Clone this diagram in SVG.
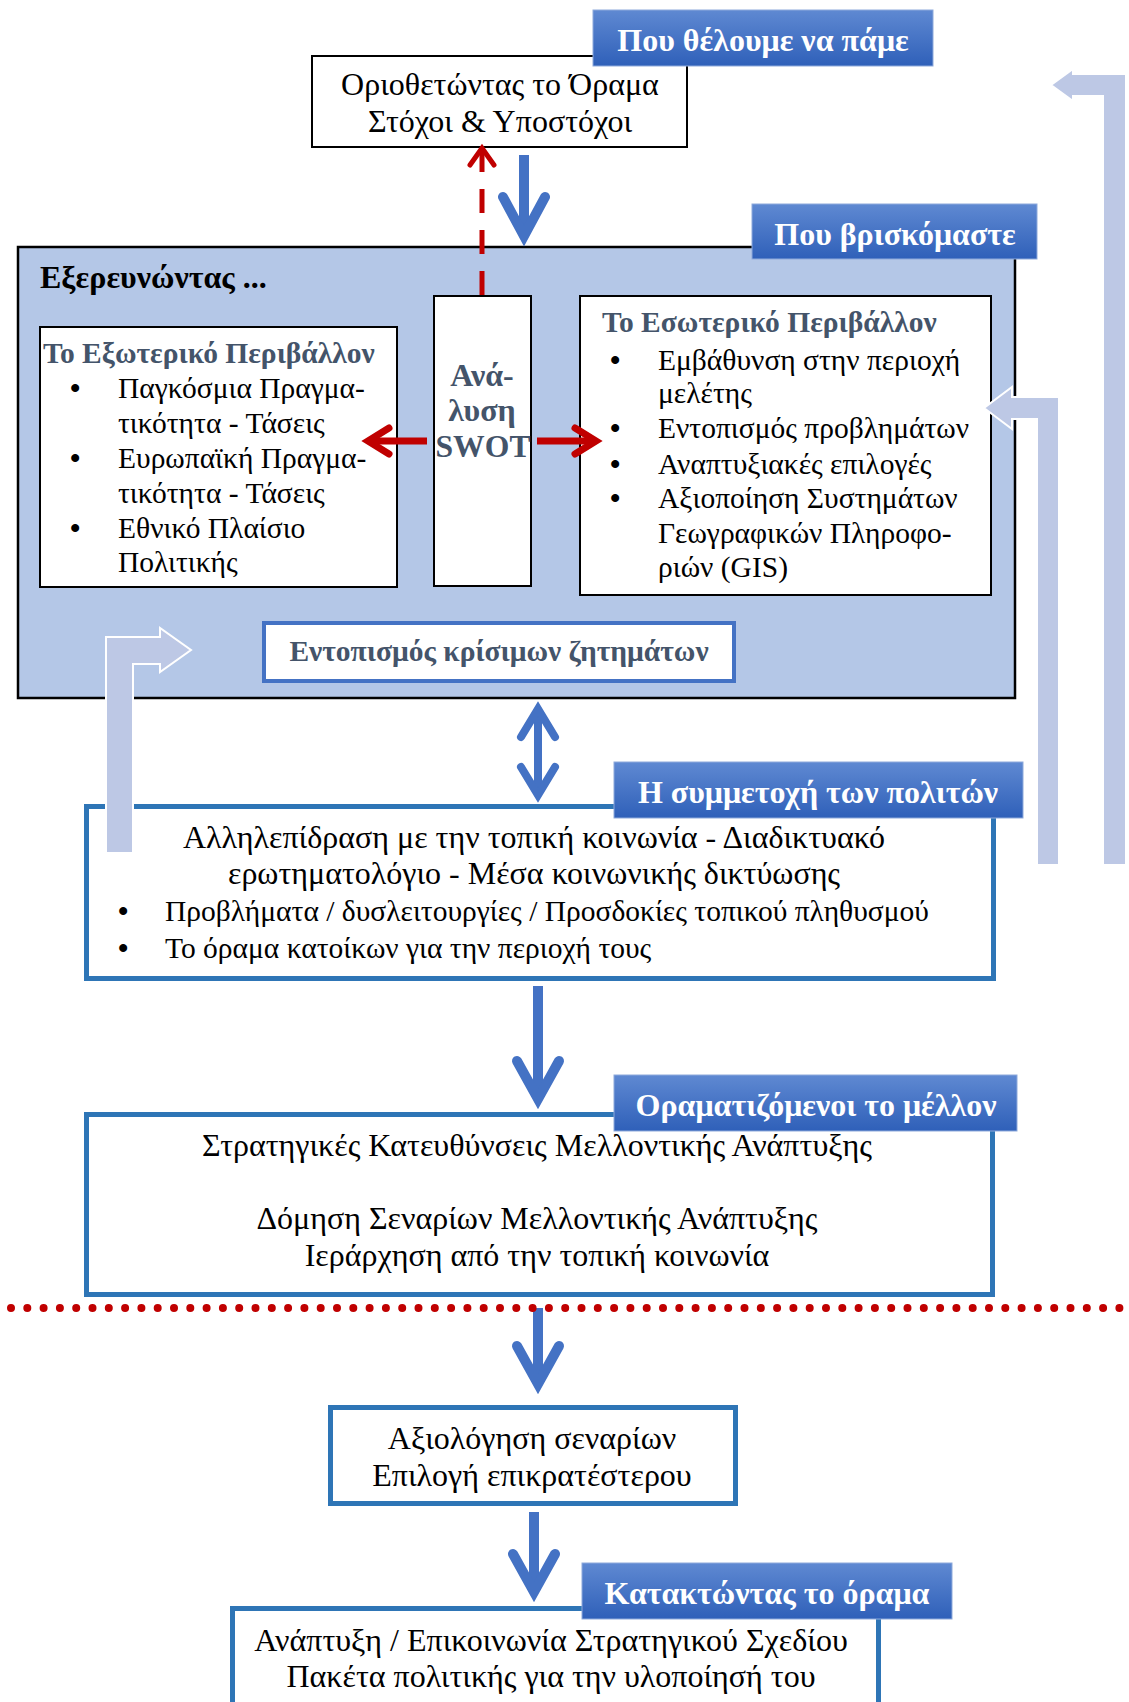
<svg xmlns="http://www.w3.org/2000/svg" width="1129" height="1702" viewBox="0 0 1129 1702">
<defs>
<linearGradient id="lblGrad" x1="0" y1="0" x2="0" y2="1">
<stop offset="0" stop-color="#5f89d2"/>
<stop offset="1" stop-color="#2f60b9"/>
</linearGradient>
<style>
text { font-family: "Liberation Serif", "Times New Roman", serif; font-size: 32px; fill: #000; }
.sm { font-size: 29.5px; }
.bul { font-size: 29.5px; font-weight: bold; }
.lbl rect { fill: url(#lblGrad); stroke: #8eaadb; stroke-width: 1; }
.lbl text { fill: #fff; font-weight: bold; text-anchor: middle; font-size: 32px; }
.plain { fill: #fff; stroke: #000; stroke-width: 2; }
.bluebox { fill: #fff; stroke: #2e75b6; stroke-width: 5; }
.title { font-weight: bold; fill: #44546a; }
.c { text-anchor: middle; }
.bs { fill: none; stroke: #4472c4; stroke-linecap: butt; }
.bh { fill: none; stroke: #4472c4; stroke-linecap: round; stroke-linejoin: miter; stroke-miterlimit: 10; }
.rs { fill: none; stroke: #c00000; stroke-linecap: butt; }
.rh { fill: none; stroke: #c00000; stroke-linecap: round; stroke-linejoin: miter; stroke-miterlimit: 10; }
.bent { fill: #bdc8e5; stroke: #fff; stroke-width: 2; }
</style>
</defs>

<g id="panel-explore">
<rect x="18" y="247" width="997" height="451" fill="#b4c7e7" stroke="#000" stroke-width="2.5"/>
<text x="40" y="288" font-weight="bold">Εξερευνώντας ...</text>
</g>

<g id="node-vision">
<rect class="plain" x="312" y="56" width="375" height="91"/>
<text class="c" x="500" y="95">Οριοθετώντας το Όραμα</text>
<text class="c" x="500" y="132">Στόχοι &amp; Υποστόχοι</text>
</g>

<g id="node-external">
<rect class="plain" x="40" y="327" width="357" height="260"/>
<text class="title sm" x="43" y="363">Το Εξωτερικό Περιβάλλον</text>
<text class="bul" x="70" y="398">•</text><text class="sm" x="118" y="398">Παγκόσμια Πραγμα-</text>
<text class="sm" x="118" y="433">τικότητα - Τάσεις</text>
<text class="bul" x="70" y="468">•</text><text class="sm" x="118" y="468">Ευρωπαϊκή Πραγμα-</text>
<text class="sm" x="118" y="503">τικότητα - Τάσεις</text>
<text class="bul" x="70" y="538">•</text><text class="sm" x="118" y="538">Εθνικό Πλαίσιο</text>
<text class="sm" x="118" y="572">Πολιτικής</text>
</g>

<g id="node-swot">
<rect class="plain" x="434" y="296" width="97" height="290"/>
<text class="title c" x="482" y="386" font-size="34">Ανά-</text>
<text class="title c" x="482" y="421" font-size="34">λυση</text>
<text class="title c" x="483" y="457" font-size="34" textLength="95" lengthAdjust="spacingAndGlyphs">SWOT</text>
</g>

<g id="node-internal">
<rect class="plain" x="580" y="296" width="411" height="299"/>
<text class="title sm" x="602" y="332">Το Εσωτερικό Περιβάλλον</text>
<text class="bul" x="610" y="370">•</text><text class="sm" x="658" y="370">Εμβάθυνση στην περιοχή</text>
<text class="sm" x="658" y="403">μελέτης</text>
<text class="bul" x="610" y="438">•</text><text class="sm" x="658" y="438">Εντοπισμός προβλημάτων</text>
<text class="bul" x="610" y="474">•</text><text class="sm" x="658" y="474">Αναπτυξιακές επιλογές</text>
<text class="bul" x="610" y="508">•</text><text class="sm" x="658" y="508">Αξιοποίηση Συστημάτων</text>
<text class="sm" x="658" y="543">Γεωγραφικών Πληροφο-</text>
<text class="sm" x="658" y="577">ριών (GIS)</text>
</g>

<g id="node-critical">
<rect x="264" y="623" width="470" height="58" fill="#fff" stroke="#4472c4" stroke-width="4"/>
<text class="title c sm" x="499" y="661">Εντοπισμός κρίσιμων ζητημάτων</text>
</g>

<g id="node-citizens">
<rect class="bluebox" x="86.5" y="806.5" width="907" height="172"/>
<text class="c" x="534" y="848">Αλληλεπίδραση με την τοπική κοινωνία - Διαδικτυακό</text>
<text class="c" x="534" y="884">ερωτηματολόγιο - Μέσα κοινωνικής δικτύωσης</text>
<text class="bul" x="118" y="921">•</text><text class="sm" x="165" y="921">Προβλήματα / δυσλειτουργίες / Προσδοκίες τοπικού πληθυσμού</text>
<text class="bul" x="118" y="958">•</text><text class="sm" x="165" y="958">Το όραμα κατοίκων για την περιοχή τους</text>
</g>

<g id="node-future">
<rect class="bluebox" x="86.5" y="1114.5" width="906" height="180"/>
<text class="c" x="537" y="1156">Στρατηγικές Κατευθύνσεις Μελλοντικής Ανάπτυξης</text>
<text class="c" x="537" y="1229">Δόμηση Σεναρίων Μελλοντικής Ανάπτυξης</text>
<text class="c" x="537" y="1266">Ιεράρχηση από την τοπική κοινωνία</text>
</g>

<g id="node-evaluation">
<rect class="bluebox" x="330.5" y="1407.5" width="405" height="96"/>
<text class="c" x="532" y="1449">Αξιολόγηση σεναρίων</text>
<text class="c" x="532" y="1486">Επιλογή επικρατέστερου</text>
</g>

<g id="node-plan">
<rect class="bluebox" x="232.5" y="1608.5" width="646" height="110"/>
<text class="c" x="551" y="1651">Ανάπτυξη / Επικοινωνία Στρατηγικού Σχεδίου</text>
<text class="c" x="551" y="1687">Πακέτα πολιτικής για την υλοποίησή του</text>
</g>

<g id="connectors">
<path class="bs" stroke-width="10" d="M524,155 V237"/>
<path class="bh" stroke-width="10" d="M503,197 L524,236 L545,197"/>
<path class="rs" stroke-width="5" stroke-dasharray="24 17" d="M482,295 V150"/>
<path class="rh" stroke-width="5" d="M470,165 L482,148 L494,165"/>
<path class="rs" stroke-width="7" d="M537,441 H596"/>
<path class="rh" stroke-width="7" d="M575,428 L596,441 L575,454"/>
<path class="rs" stroke-width="7" d="M427,441 H368"/>
<path class="rh" stroke-width="7" d="M389,428 L368,441 L389,454"/>
<path class="bs" stroke-width="8" d="M538,709 V795"/>
<path class="bh" stroke-width="8" d="M521,737 L538,709 L555,737 M521,767 L538,795 L555,767"/>
<path class="bs" stroke-width="10" d="M538,986 V1099"/>
<path class="bh" stroke-width="10" d="M517,1061 L538,1099 L559,1061"/>
<path class="bs" stroke-width="10" d="M538,1308 V1384"/>
<path class="bh" stroke-width="10" d="M517,1346 L538,1384 L559,1346"/>
<path class="bs" stroke-width="10" d="M534,1512 V1592"/>
<path class="bh" stroke-width="10" d="M513,1554 L534,1592 L555,1554"/>
<path d="M11,1308 H1124" fill="none" stroke="#c00000" stroke-width="8" stroke-linecap="round" stroke-dasharray="0 16.3"/>
<path class="bent" d="M106,853 V637 H160 V628 L191,650 L160,672 V664 H133 V853 Z"/>
<path class="bent" d="M1059,865 V397 H1012 V387 L984,408 L1012,429 V419 H1037 V865 Z"/>
<path class="bent" stroke="none" d="M1126,865 V74 H1073 V69 L1051,85 L1073,101 V96 H1103 V865 Z"/>
</g>

<g id="label-where-go" class="lbl">
<rect x="593" y="10" width="340" height="56"/>
<text x="763" y="51">Που θέλουμε να πάμε</text>
</g>
<g id="label-where-are" class="lbl">
<rect x="752" y="204" width="285" height="55"/>
<text x="895" y="245">Που βρισκόμαστε</text>
</g>
<g id="label-citizens" class="lbl">
<rect x="614" y="762" width="409" height="56"/>
<text x="818" y="803">Η συμμετοχή των πολιτών</text>
</g>
<g id="label-future" class="lbl">
<rect x="614" y="1075" width="403" height="56"/>
<text x="816" y="1116">Οραματιζόμενοι το μέλλον</text>
</g>
<g id="label-achieve" class="lbl">
<rect x="582" y="1563" width="370" height="56"/>
<text x="767" y="1604">Κατακτώντας το όραμα</text>
</g>
</svg>
